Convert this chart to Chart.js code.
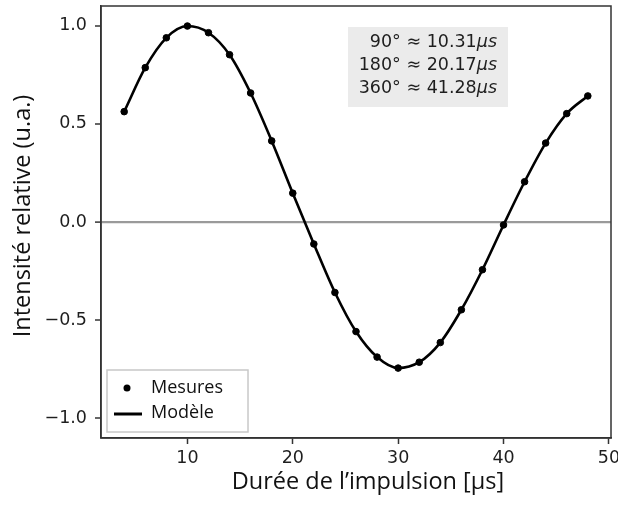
<!DOCTYPE html>
<html>
<head>
<meta charset="utf-8">
<script src="https://cdn.jsdelivr.net/npm/chart.js@4/dist/chart.umd.min.js"></script>
<style>
html,body{margin:0;padding:0;background:#fff;}
#wrap{width:618px;height:506px;}
</style>
</head>
<body>
<div id="wrap"><canvas id="c" width="618" height="506"></canvas></div>
<script>
// Data
const durations = [4,6,8,10,12,14,16,18,20,22,24,26,28,30,32,34,36,38,40,42,44,46,48];
const mesures = [0.562,0.786,0.938,0.998,0.964,0.852,0.657,0.413,0.147,-0.112,-0.359,-0.558,-0.688,-0.744,-0.714,-0.614,-0.447,-0.243,-0.015,0.205,0.402,0.552,0.642];
const modele = mesures.slice();
const xTicks = [10,20,30,40,50];
const yTicks = [-1.0,-0.5,0.0,0.5,1.0];
const seriesLabels = ['Mesures','Modèle'];
const annotationLines = [['90° ≈ 10.31','μs'],['180° ≈ 20.17','μs'],['360° ≈ 41.28','μs']];
const xTitle = 'Durée de l’impulsion [µs]';
const yTitle = 'Intensité relative (u.a.)';

const TXT = '#1e1e1e';
const SPINE = '#333333';
const labelFont = '"Open Sans", Lato, sans-serif';

const decorPlugin = {
  id: 'decor',
  afterDraw(chart) {
    const ctx = chart.ctx;
    const a = chart.chartArea;
    ctx.save();
    // frame
    ctx.strokeStyle = SPINE;
    ctx.lineWidth = 1.5;
    ctx.strokeRect(a.left, a.top, a.right - a.left, a.bottom - a.top);

    // annotation box
    ctx.fillStyle = '#ebebeb';
    ctx.fillRect(348, 27, 160, 80);
    ctx.fillStyle = TXT;
    ctx.textBaseline = 'middle';
    const rightX = 497;
    annotationLines.forEach((ln, i) => {
      const y = 42 + i * 23.3;
      ctx.font = 'italic 17.5px "DejaVu Sans"';
      const w = ctx.measureText(ln[1]).width;
      ctx.textAlign = 'right';
      ctx.fillText(ln[1], rightX, y);
      ctx.font = '17.5px "DejaVu Sans"';
      ctx.fillText(ln[0], rightX - w, y);
    });

    // legend
    ctx.fillStyle = '#ffffff';
    ctx.fillRect(107, 370, 141, 62);
    ctx.strokeStyle = '#c8c8c8';
    ctx.lineWidth = 1.5;
    ctx.strokeRect(107, 370, 141, 62);
    ctx.fillStyle = '#000';
    ctx.beginPath();
    ctx.arc(127, 388, 3.5, 0, Math.PI * 2);
    ctx.fill();
    ctx.strokeStyle = '#000';
    ctx.lineWidth = 3;
    ctx.beginPath();
    ctx.moveTo(114, 414);
    ctx.lineTo(142, 414);
    ctx.stroke();
    ctx.fillStyle = '#111';
    ctx.font = '18px ' + labelFont;
    ctx.textAlign = 'left';
    ctx.textBaseline = 'middle';
    ctx.fillText(seriesLabels[0], 151, 388);
    ctx.fillText(seriesLabels[1], 151, 413);

    // axis titles
    ctx.font = '23.5px ' + labelFont;
    ctx.textAlign = 'center';
    ctx.textBaseline = 'alphabetic';
    ctx.fillText(xTitle, 368, 489);
    ctx.save();
    ctx.translate(30, 216);
    ctx.rotate(-Math.PI / 2);
    ctx.fillText(yTitle, 0, 0);
    ctx.restore();
    ctx.restore();
  }
};

new Chart(document.getElementById('c'), {
  data: {
    datasets: [
      {
        type: 'line',
        label: seriesLabels[1],
        data: durations.map((x, i) => ({x: x, y: modele[i]})),
        borderColor: '#000',
        borderWidth: 2.6,
        pointRadius: 0,
        fill: false,
        cubicInterpolationMode: 'monotone',
        order: 2
      },
      {
        type: 'scatter',
        label: seriesLabels[0],
        data: durations.map((x, i) => ({x: x, y: mesures[i]})),
        backgroundColor: '#000',
        borderColor: '#000',
        pointRadius: 3.3,
        pointHoverRadius: 3.3,
        order: 1
      }
    ]
  },
  options: {
    responsive: false,
    animation: false,
    devicePixelRatio: 1,
    layout: {padding: {left: 0, right: 7, top: 6, bottom: 0}},
    plugins: {legend: {display: false}, tooltip: {enabled: false}},
    scales: {
      x: {
        type: 'linear',
        min: 1.8,
        max: 50.2,
        afterBuildTicks: (s) => { s.ticks = xTicks.map(v => ({value: v})); },
        afterFit: (s) => { s.height = 68; s.paddingLeft = 0; s.paddingRight = 0; },
        grid: {drawOnChartArea: false, drawTicks: true, tickLength: 6, tickColor: SPINE, tickWidth: 1.5},
        border: {display: true, color: SPINE, width: 1.5},
        ticks: {color: TXT, font: {family: '"DejaVu Sans"', size: 17.5}, padding: 4, maxRotation: 0,
          callback: (v) => String(v)}
      },
      y: {
        type: 'linear',
        min: -1.1,
        max: 1.1,
        afterBuildTicks: (s) => { s.ticks = yTicks.map(v => ({value: v})); },
        afterFit: (s) => { s.width = 101; s.paddingTop = 0; s.paddingBottom = 0; },
        grid: {
          drawOnChartArea: true,
          drawTicks: true,
          tickLength: 6,
          tickColor: SPINE,
          tickWidth: 1.5,
          color: (c) => (c.tick && c.tick.value === 0) ? '#9a9a9a' : 'rgba(0,0,0,0)',
          lineWidth: (c) => (c.tick && c.tick.value === 0) ? 2.2 : 0
        },
        border: {display: true, color: SPINE, width: 1.5},
        ticks: {color: TXT, font: {family: '"DejaVu Sans"', size: 17.5}, padding: 8,
          callback: (v) => (v < 0 ? '\u2212' : '') + Math.abs(v).toFixed(1)}
      }
    }
  },
  plugins: [decorPlugin]
});
</script>
</body>
</html>
